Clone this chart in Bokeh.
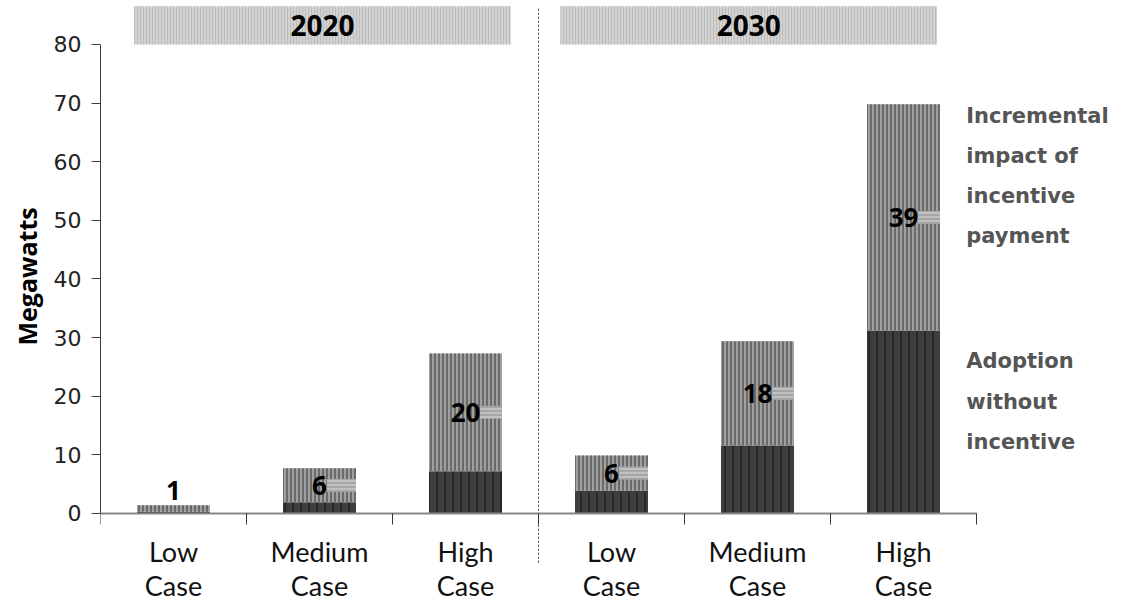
from bokeh.plotting import figure
from bokeh.models import Range1d, LinearAxis, FixedTicker, Label, ColumnDataSource, Title
from bokeh.core.properties import value
from bokeh.embed import file_html
from bokeh.resources import INLINE

# ---------------- data ----------------
years = ["2020", "2030"]
cases = ["Low\nCase", "Medium\nCase", "High\nCase"]
base_2020 = [0.3, 1.9, 7.2]      # adoption without incentive
inc_2020 = [1.1, 5.8, 20.1]      # incremental impact of incentive payment
base_2030 = [3.9, 11.6, 31.2]
inc_2030 = [6.0, 17.8, 38.6]
inc_labels_2020 = ["1", "6", "20"]
inc_labels_2030 = ["6", "18", "39"]
y_ticks = [0, 10, 20, 30, 40, 50, 60, 70, 80]
y_title = "Megawatts"
legend_top = "Incremental\nimpact of\nincentive\npayment"
legend_bottom = "Adoption\nwithout\nincentive"

# ---------------- derived ----------------
n_cases = len(cases)
n_bars = len(years) * n_cases
bases = base_2020 + base_2030
incs = inc_2020 + inc_2030
labels = inc_labels_2020 + inc_labels_2030
xs = [i + 0.5 for i in range(n_bars)]
tops = [b + v for b, v in zip(bases, incs)]
inside = [v >= 3 for v in incs]
label_y = [b + v / 2 if ins else b + v + 2.5 for b, v, ins in zip(bases, incs, inside)]

strip = dict(left=[], right=[], bottom=[], top=[])
for x, ly, lab, ins in zip(xs, label_y, labels, inside):
    if ins:
        strip["left"].append(x + 0.05 * len(lab))
        strip["right"].append(x + 0.25)
        strip["bottom"].append(ly - 1.1)
        strip["top"].append(ly + 1.1)

src = ColumnDataSource(dict(x=xs, base=bases, top=tops, label=labels, label_y=label_y))

p = figure(width=1122, height=601, x_range=Range1d(0, 7.0), y_range=Range1d(-15.01, 87.5),
           output_backend="svg", toolbar_location=None,
           x_axis_type=None, y_axis_type=None,
           min_border_left=100, min_border_right=0, min_border_top=0, min_border_bottom=0)
p.outline_line_color = None
p.background_fill_color = "white"
p.border_fill_color = "white"

# header boxes
group_centers = [1.52, 4.44]
p.quad(left=[c - 1.29 for c in group_centers], right=[c + 1.29 for c in group_centers],
       bottom=80, top=86.5, fill_color="#d2d2d2", line_color=None,
       hatch_pattern="|", hatch_color="#bcbcbc", hatch_scale=3, hatch_weight=1)
p.text(x=group_centers, y=83.3, text=years, text_font=value("Open Sans"),
       text_font_style="bold", text_font_size="28px", text_align="center",
       text_baseline="middle", text_color="black")

# separator
p.segment(x0=[n_cases], y0=[-8.4], x1=[n_cases], y1=[86.2],
          line_color="#444444", line_dash="2 2", line_width=1)

# bars
p.vbar(x="x", bottom=0, top="base", width=0.5, source=src, fill_color="#3e3e3e",
       line_color=None, hatch_pattern="|", hatch_color="#111111", hatch_scale=8, hatch_weight=1)
p.vbar(x="x", bottom="base", top="top", width=0.5, source=src, fill_color="#a0a0a0",
       line_color=None, hatch_pattern="|", hatch_color="#6a6a6a", hatch_scale=4, hatch_weight=2)

# label strips
p.quad(left=strip["left"], right=strip["right"], bottom=strip["bottom"], top=strip["top"],
       fill_color="#c0c0c0", line_color=None, hatch_pattern="-", hatch_color="#8c8c8c",
       hatch_scale=4, hatch_weight=1)

p.text(x="x", y="label_y", text="label", source=src, text_font=value("Open Sans"),
       text_font_style="bold", text_font_size="26px", text_align="center",
       text_baseline="middle", text_color="black")

# y axis
yaxis = LinearAxis(ticker=FixedTicker(ticks=y_ticks), bounds=(0, 80))
yaxis.axis_line_color = "#404040"
yaxis.major_tick_line_color = "#404040"
yaxis.major_tick_out = 9
yaxis.major_tick_in = 0
yaxis.minor_tick_line_color = None
yaxis.major_label_standoff = 10
yaxis.major_label_text_font = "DejaVu Sans"
yaxis.major_label_text_font_size = "22px"
yaxis.major_label_text_color = "#222222"
p.add_layout(yaxis, "left")

# y axis title (aligned to the 0-80 span of the axis)
p.add_layout(Title(text=y_title, align="left", offset=256, standoff=14,
                   text_font="Open Sans", text_font_style="bold", text_font_size="25px",
                   text_color="black"), "left")

# x axis
xaxis = LinearAxis(fixed_location=0, bounds=(0, n_bars),
                   ticker=FixedTicker(ticks=xs, minor_ticks=list(range(n_bars + 1))),
                   major_label_overrides={x: c for x, c in zip(xs, cases * len(years))})
xaxis.axis_line_color = "#888888"
xaxis.axis_line_width = 2
xaxis.major_tick_line_color = None
xaxis.major_tick_out = 0
xaxis.major_tick_in = 0
xaxis.minor_tick_line_color = "#333333"
xaxis.minor_tick_out = 11
xaxis.minor_tick_in = 0
xaxis.major_label_standoff = 11
xaxis.major_label_text_font = "Lato"
xaxis.major_label_text_font_size = "27px"
xaxis.major_label_text_color = "#111111"
xaxis.major_label_text_line_height = 1.02
p.add_layout(xaxis, "below")

# legend text
for txt, yy in [(legend_top, 57.6), (legend_bottom, 19.1)]:
    p.add_layout(Label(x=5.93, y=yy, text=txt, text_align="left", text_baseline="middle",
                       text_font="DejaVu Sans", text_font_style="bold", text_font_size="21px",
                       text_color="#555555", text_line_height=1.67))

open("out.html", "w").write(file_html(p, INLINE))
